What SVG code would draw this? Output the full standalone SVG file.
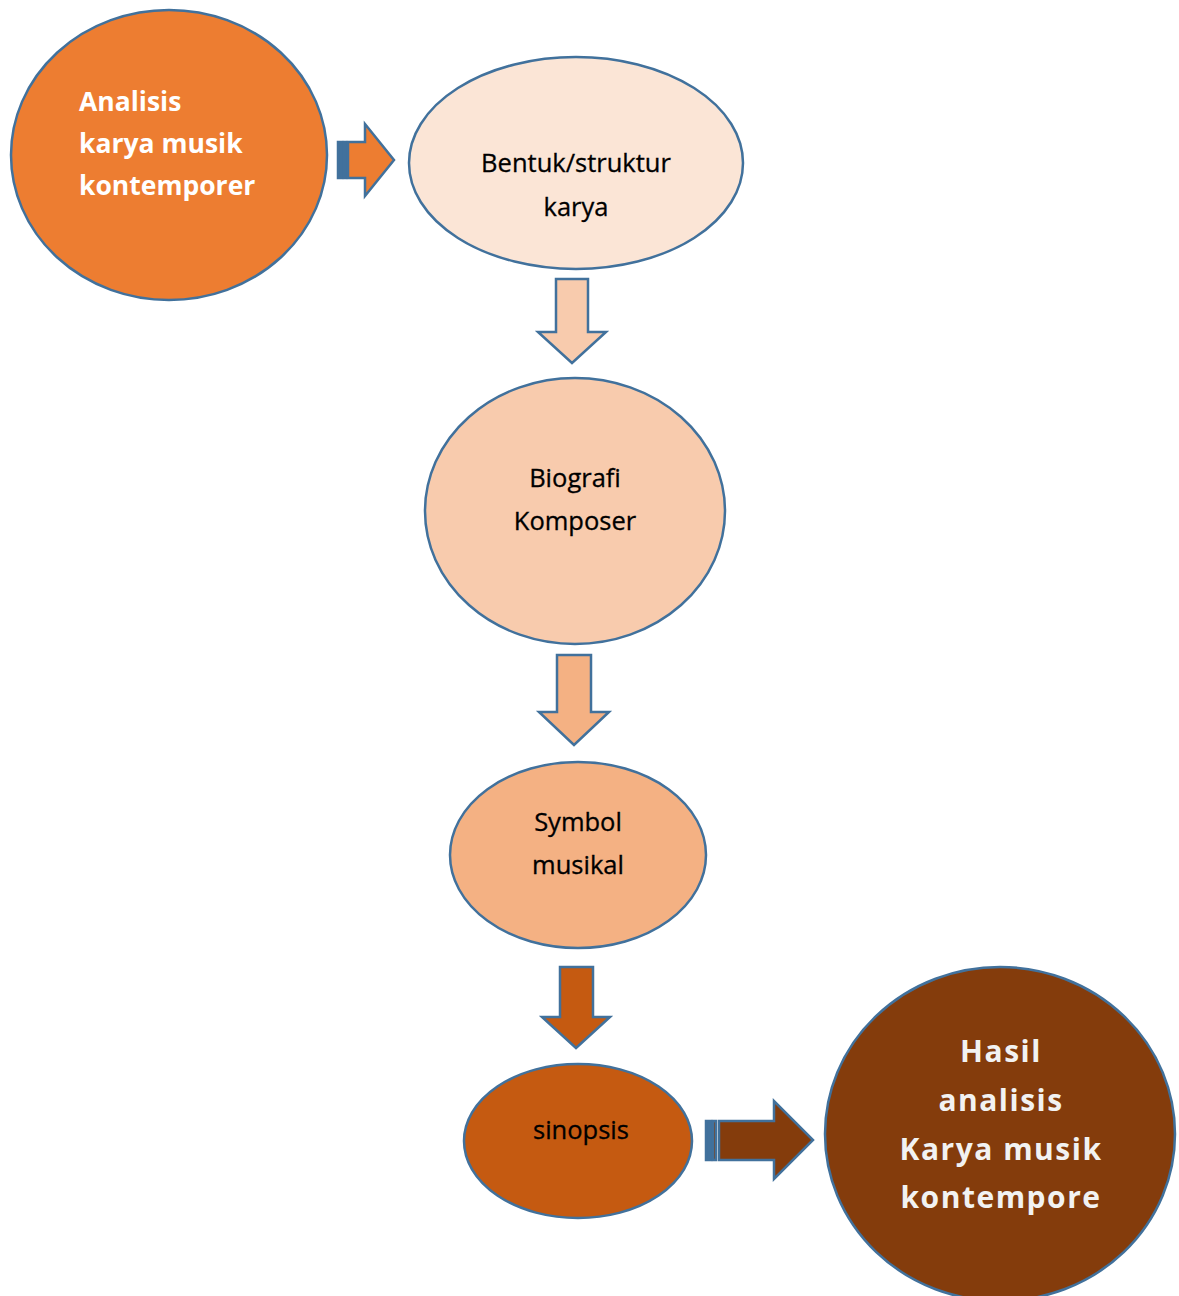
<svg xmlns="http://www.w3.org/2000/svg" width="1179" height="1296" viewBox="0 0 1179 1296">
<style>
.node{stroke:#41719C;stroke-width:2.5}
.arr{stroke:#41719C;stroke-width:2.5;stroke-linejoin:miter}
.t{font-family:"Open Sans","Noto Sans","Liberation Sans",sans-serif;font-size:25.5px;fill:#000;text-anchor:middle;stroke:#000;stroke-width:0.3}
.tw{font-family:"Open Sans","Noto Sans","Liberation Sans",sans-serif;font-size:26.5px;font-weight:bold;fill:#fff}
.th{font-family:"Open Sans","Noto Sans","Liberation Sans",sans-serif;font-size:30px;font-weight:bold;fill:#F2F2F2;text-anchor:middle;letter-spacing:1.5px}
</style>
<rect width="1179" height="1296" fill="#fff"/>
<g id="n1">
<ellipse class="node" cx="169" cy="155" rx="158" ry="145" fill="#ED7D31"/>
<text class="tw" x="79" y="111">Analisis</text>
<text class="tw" x="79" y="153">karya musik</text>
<text class="tw" x="79" y="195">kontemporer</text>
</g>
<g id="n2">
<ellipse class="node" cx="576" cy="163" rx="167" ry="106" fill="#FBE5D6"/>
<text class="t" x="576" y="172">Bentuk/struktur</text>
<text class="t" x="576" y="216">karya</text>
</g>
<g id="n3">
<ellipse class="node" cx="575" cy="511" rx="150" ry="133" fill="#F8CBAD"/>
<text class="t" x="575" y="487">Biografi</text>
<text class="t" x="575" y="530">Komposer</text>
</g>
<g id="n4">
<ellipse class="node" cx="578" cy="855" rx="128" ry="93" fill="#F4B183"/>
<text class="t" x="578" y="831">Symbol</text>
<text class="t" x="578" y="874">musikal</text>
</g>
<g id="n5">
<ellipse class="node" cx="578" cy="1141" rx="114" ry="77" fill="#C55A11"/>
<text class="t" x="581" y="1139">sinopsis</text>
</g>
<g id="n6">
<ellipse class="node" cx="1000" cy="1134" rx="175" ry="167" fill="#843C0C"/>
<text class="th" x="1001" y="1062">Hasil</text>
<text class="th" x="1001" y="1111">analisis</text>
<text class="th" x="1001" y="1160">Karya musik</text>
<text class="th" x="1001" y="1208">kontempore</text>
</g>
<g id="connectors">
<g fill="#ED7D31">
<rect class="arr" x="338" y="142" width="4" height="36" fill="#41719C"/>
<rect class="arr" x="344" y="142" width="2" height="36"/>
<polygon class="arr" points="348,142 365,142 365,124 394,160 365,196 365,178 348,178"/>
</g>
<polygon class="arr" fill="#F8CBAD" points="556,279 588,279 588,332 606,332 572,363 538,332 556,332"/>
<polygon class="arr" fill="#F4B183" points="557,655 591,655 591,712 609,712 574,745 539,712 557,712"/>
<polygon class="arr" fill="#C55A11" points="560,967 593,967 593,1017 610,1017 576,1048 542,1017 560,1017"/>
<g fill="#843C0C">
<rect class="arr" x="706" y="1121" width="5" height="39" fill="#41719C"/>
<rect class="arr" x="713" y="1121" width="3" height="39"/>
<polygon class="arr" points="719,1121 774,1121 774,1101 813,1140 774,1179 774,1160 719,1160"/>
</g>
</g>
</svg>
